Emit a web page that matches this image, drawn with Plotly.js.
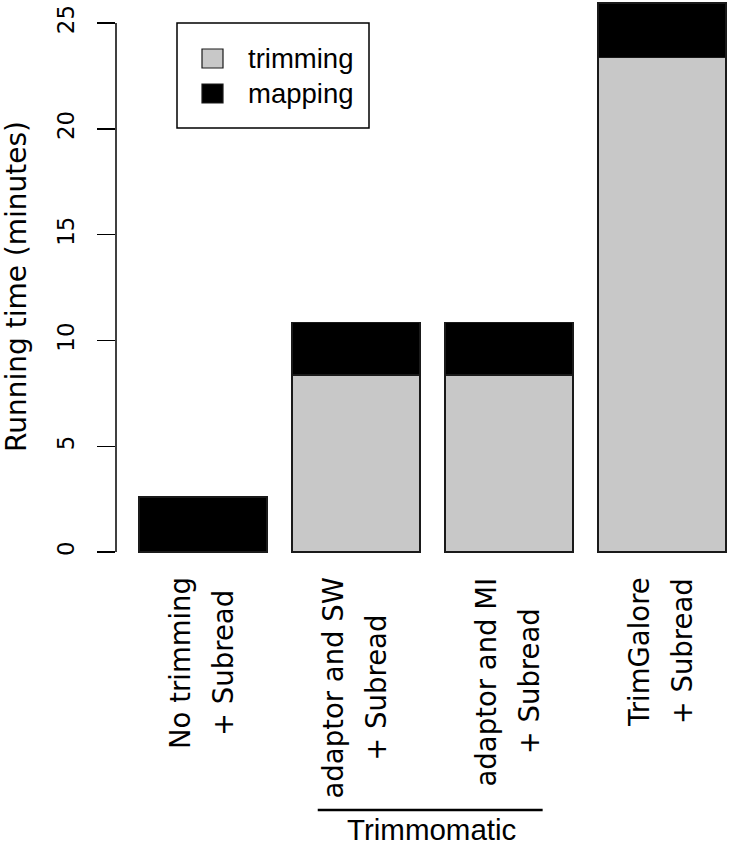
<!DOCTYPE html>
<html>
<head>
<meta charset="utf-8">
<script src="https://cdn.plot.ly/plotly-3.0.1.min.js"></script>
<style>html,body{margin:0;padding:0;background:#fff;}#chart{width:729px;height:848px;}</style>
</head>
<body>
<div id="chart"></div>
<script>
// ---- data ----
const categories = ["No trimming + Subread", "adaptor and SW + Subread", "adaptor and MI + Subread", "TrimGalore + Subread"];
const labelLine1 = ["No trimming", "adaptor and SW", "adaptor and MI", "TrimGalore"];
const labelLine2 = ["+ Subread", "+ Subread", "+ Subread", "+ Subread"];
const trimming = [0, 8.36, 8.36, 23.38];
const mapping = [2.60, 2.48, 2.48, 2.58];
const seriesNames = ["trimming", "mapping"];
const yTicks = [0, 5, 10, 15, 20, 25];
const groupLabel = "Trimmomatic";
const yTitle = "Running time (minutes)";

// ---- layout helpers ----
const W = 729, H = 848;
const mL = 116, mR = 0, mT = 0, mB = 275;
const pw = W - mL - mR, ph = H - mT - mB;
const px2x = p => (p - mL) / pw;
const px2y = p => (mT + ph - p) / ph;

const xFontFam = "DejaVu Sans";
const xFontSize = 27.5;
const ctx = document.createElement("canvas").getContext("2d");
ctx.font = xFontSize + "px '" + xFontFam + "'";

const traces = [
  {type: "bar", name: seriesNames[0], x: categories, y: trimming,
   marker: {color: "#c8c8c8", line: {color: "#1a1a1a", width: 1.5}}, hoverinfo: "skip"},
  {type: "bar", name: seriesNames[1], x: categories, y: mapping,
   marker: {color: "#000000", line: {color: "#1a1a1a", width: 1.5}}, hoverinfo: "skip"}
];

const annotations = [];
categories.forEach((c, i) => {
  const w1 = ctx.measureText(labelLine1[i]).width;
  const w2 = ctx.measureText(labelLine2[i]).width;
  annotations.push({xref: "x", yref: "paper", x: c, y: px2y(575), xanchor: "center", yanchor: "top",
    text: labelLine1[i], textangle: -90, showarrow: false, xshift: -23,
    font: {family: xFontFam, size: xFontSize, color: "#000"}});
  annotations.push({xref: "x", yref: "paper", x: c, y: px2y(575), xanchor: "center", yanchor: "top",
    text: labelLine2[i], textangle: -90, showarrow: false, xshift: 20, yshift: -(w1 - w2) / 2,
    font: {family: xFontFam, size: xFontSize, color: "#000"}});
});
annotations.push({xref: "paper", yref: "paper", x: px2x(431), y: px2y(829), xanchor: "center", yanchor: "middle",
  text: groupLabel, showarrow: false, font: {family: "Liberation Sans", size: 29.5, color: "#000"}});
// legend text
annotations.push({xref: "paper", yref: "paper", x: px2x(246), y: px2y(58), xanchor: "left", yanchor: "middle",
  text: seriesNames[0], showarrow: false, font: {family: "Liberation Sans", size: 27.5, color: "#000"}});
annotations.push({xref: "paper", yref: "paper", x: px2x(246), y: px2y(93), xanchor: "left", yanchor: "middle",
  text: seriesNames[1], showarrow: false, font: {family: "Liberation Sans", size: 27.5, color: "#000"}});

const shapes = [
  // y axis line from 0 to 25
  {type: "line", xref: "paper", yref: "y", x0: 0, x1: 0, y0: yTicks[0], y1: yTicks[yTicks.length - 1],
   line: {color: "#000", width: 1.5}},
  // Trimmomatic bracket line
  {type: "line", xref: "x", yref: "paper", x0: 0.75, x1: 2.22, y0: px2y(810), y1: px2y(810),
   line: {color: "#000", width: 2.5}},
  // legend box
  {type: "rect", xref: "paper", yref: "paper", x0: px2x(177), x1: px2x(369), y0: px2y(23), y1: px2y(128),
   line: {color: "#000", width: 1.5}, fillcolor: "rgba(0,0,0,0)"},
  {type: "rect", xref: "paper", yref: "paper", x0: px2x(202), x1: px2x(223), y0: px2y(49), y1: px2y(68),
   line: {color: "#1a1a1a", width: 1.2}, fillcolor: "#c8c8c8"},
  {type: "rect", xref: "paper", yref: "paper", x0: px2x(202), x1: px2x(223), y0: px2y(84), y1: px2y(103),
   line: {color: "#1a1a1a", width: 1.2}, fillcolor: "#000"}
];

const layout = {
  width: W, height: H,
  margin: {l: mL, r: mR, t: mT, b: mB, pad: 0},
  paper_bgcolor: "#fff", plot_bgcolor: "#fff",
  barmode: "stack", bargap: 0.163,
  showlegend: false,
  xaxis: {type: "category", range: [-0.5686, 3.438], showticklabels: false, ticks: "",
          showline: false, showgrid: false, zeroline: false, fixedrange: true},
  yaxis: {range: [-0.99, 26.09], tickvals: yTicks, ticktext: yTicks.map(String),
          ticks: "outside", ticklen: 18, tickwidth: 1.5, tickcolor: "#000",
          tickangle: -90, ticklabelstandoff: 14,
          tickfont: {family: "DejaVu Sans", size: 23, color: "#000"},
          showline: false, showgrid: false, zeroline: false, fixedrange: true,
          automargin: false,
          title: {text: yTitle, standoff: 20, font: {family: "DejaVu Sans", size: 28, color: "#000"}}},
  shapes: shapes,
  annotations: annotations,
  font: {family: "DejaVu Sans", color: "#000"}
};

Plotly.newPlot("chart", traces, layout, {staticPlot: true, displayModeBar: false});
</script>
</body>
</html>
